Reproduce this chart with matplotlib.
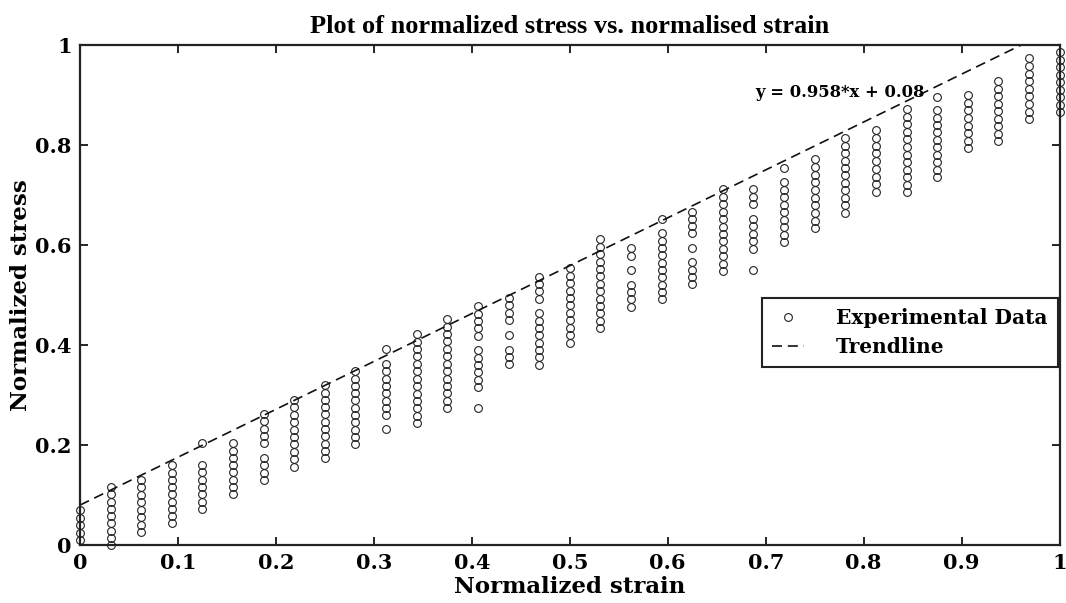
import matplotlib
matplotlib.use('Agg')

import numpy as np
import matplotlib.pyplot as plt

plt.rcParams['font.family'] = ['DejaVu Serif']
plt.rcParams['font.weight'] = 'bold'

# strain levels (one column of readings per level)
strain_levels = [0.0, 0.03125, 0.0625, 0.09375, 0.125, 0.15625, 0.1875, 0.21875,
                 0.25, 0.28125, 0.3125, 0.34375, 0.375, 0.40625, 0.4375, 0.46875,
                 0.5, 0.53125, 0.5625, 0.59375, 0.625, 0.65625, 0.6875, 0.71875,
                 0.75, 0.78125, 0.8125, 0.84375, 0.875, 0.90625, 0.9375, 0.96875, 1.0]

# measured normalized stress at each strain level
stress_readings = [
    [0.010, 0.025, 0.040, 0.055, 0.070],
    [0.000, 0.015, 0.029, 0.044, 0.058, 0.073, 0.087, 0.102, 0.116],
    [0.026, 0.041, 0.056, 0.071, 0.086, 0.101, 0.116, 0.131],
    [0.044, 0.058, 0.073, 0.087, 0.102, 0.116, 0.131, 0.145, 0.160],
    [0.072, 0.087, 0.102, 0.116, 0.131, 0.146, 0.160, 0.204],
    [0.102, 0.117, 0.131, 0.146, 0.160, 0.175, 0.189, 0.204],
    [0.130, 0.145, 0.160, 0.175, 0.204, 0.219, 0.233, 0.248, 0.263],
    [0.157, 0.172, 0.187, 0.202, 0.216, 0.231, 0.246, 0.261, 0.276, 0.291],
    [0.174, 0.189, 0.203, 0.218, 0.232, 0.247, 0.262, 0.276, 0.291, 0.305, 0.320],
    [0.202, 0.217, 0.231, 0.246, 0.260, 0.275, 0.290, 0.304, 0.319, 0.333, 0.348],
    [0.232, 0.260, 0.275, 0.289, 0.304, 0.319, 0.333, 0.348, 0.363, 0.392],
    [0.244, 0.259, 0.274, 0.289, 0.303, 0.318, 0.333, 0.348, 0.363, 0.378, 0.392, 0.407, 0.422],
    [0.274, 0.289, 0.304, 0.319, 0.333, 0.348, 0.363, 0.378, 0.393, 0.408, 0.422, 0.437, 0.452],
    [0.274, 0.317, 0.331, 0.346, 0.361, 0.375, 0.390, 0.419, 0.434, 0.448, 0.463, 0.478],
    [0.362, 0.376, 0.391, 0.420, 0.450, 0.465, 0.480, 0.494],
    [0.361, 0.376, 0.390, 0.405, 0.420, 0.434, 0.449, 0.464, 0.493, 0.508, 0.522, 0.537],
    [0.405, 0.420, 0.435, 0.450, 0.465, 0.480, 0.494, 0.509, 0.524, 0.539, 0.554],
    [0.434, 0.449, 0.464, 0.478, 0.493, 0.508, 0.523, 0.538, 0.553, 0.567, 0.582, 0.597, 0.612],
    [0.476, 0.492, 0.506, 0.521, 0.550, 0.579, 0.594],
    [0.492, 0.507, 0.521, 0.536, 0.551, 0.565, 0.580, 0.595, 0.609, 0.624, 0.652],
    [0.522, 0.537, 0.551, 0.566, 0.595, 0.624, 0.638, 0.653, 0.667],
    [0.548, 0.563, 0.578, 0.593, 0.608, 0.623, 0.637, 0.652, 0.667, 0.682, 0.697, 0.712],
    [0.550, 0.593, 0.608, 0.623, 0.638, 0.652, 0.682, 0.697, 0.712],
    [0.606, 0.621, 0.636, 0.651, 0.666, 0.681, 0.696, 0.711, 0.726, 0.754],
    [0.634, 0.649, 0.665, 0.680, 0.695, 0.711, 0.726, 0.741, 0.757, 0.772],
    [0.665, 0.680, 0.695, 0.710, 0.725, 0.740, 0.754, 0.769, 0.784, 0.799, 0.814],
    [0.706, 0.722, 0.737, 0.753, 0.768, 0.784, 0.799, 0.815, 0.830],
    [0.706, 0.721, 0.736, 0.751, 0.766, 0.781, 0.797, 0.812, 0.827, 0.842, 0.857, 0.872],
    [0.736, 0.751, 0.766, 0.781, 0.796, 0.811, 0.826, 0.840, 0.855, 0.870, 0.897],
    [0.794, 0.809, 0.824, 0.839, 0.855, 0.870, 0.885, 0.900],
    [0.808, 0.823, 0.838, 0.853, 0.868, 0.883, 0.898, 0.913, 0.928],
    [0.852, 0.867, 0.882, 0.898, 0.913, 0.928, 0.943, 0.959, 0.974],
    [0.866, 0.881, 0.896, 0.911, 0.926, 0.941, 0.956, 0.971, 0.986],
]

# trendline coefficients
slope = 0.958
intercept = 0.08

x_ticks = [0, 0.1, 0.2, 0.3, 0.4, 0.5, 0.6, 0.7, 0.8, 0.9, 1]
x_tick_labels = ['0', '0.1', '0.2', '0.3', '0.4', '0.5', '0.6', '0.7', '0.8', '0.9', '1']
y_ticks = [0, 0.2, 0.4, 0.6, 0.8, 1]
y_tick_labels = ['0', '0.2', '0.4', '0.6', '0.8', '1']

# flatten the columns into x/y pairs
xs = []
ys = []
for x, col in zip(strain_levels, stress_readings):
    xs.extend([x] * len(col))
    ys.extend(col)

fig = plt.figure(figsize=(10.66, 6.03), dpi=100)
ax = fig.add_axes([0.075, 0.096, 0.919, 0.829])

ax.plot(xs, ys, 'o', markersize=5.6, markerfacecolor='none', markeredgecolor='#222222',
        markeredgewidth=0.8, linestyle='none', clip_on=False, label='Experimental Data')

xline = np.array([0.0, 1.0])
trend, = ax.plot(xline, slope * xline + intercept, color='#111111', linewidth=1.2,
                 label='Trendline')
trend.set_dashes((6, 3.5))

ax.text(0.689, 0.906, 'y = %.3f*x + %.2f' % (slope, intercept), fontsize=11.8,
        fontweight='bold', va='center', ha='left')

ax.set_xlim(0, 1)
ax.set_ylim(0, 1)
ax.set_xticks(x_ticks)
ax.set_xticklabels(x_tick_labels)
ax.set_yticks(y_ticks)
ax.set_yticklabels(y_tick_labels)
ax.tick_params(direction='in', length=6, width=1.2, top=True, right=True,
               labelsize=15, pad=6)
for lbl in ax.get_xticklabels() + ax.get_yticklabels():
    lbl.set_fontweight('bold')
for sp in ax.spines.values():
    sp.set_linewidth(1.6)
    sp.set_color('#222222')

ax.set_title('Plot of normalized stress vs. normalised strain', fontsize=19,
             fontweight='bold', pad=9, family='Liberation Serif')
ax.set_xlabel('Normalized strain', fontsize=16.5, fontweight='bold', labelpad=2)
ax.set_ylabel('Normalized stress', fontsize=16.5, fontweight='bold', labelpad=2)

leg = ax.legend(loc='upper right', bbox_to_anchor=(0.998, 0.494), borderaxespad=0,
                fancybox=False, fontsize=14.5, handlelength=1.6, handletextpad=1.6,
                borderpad=0.5, labelspacing=0.45)
leg.get_frame().set_edgecolor('#222222')
leg.get_frame().set_linewidth(1.5)
leg.get_frame().set_alpha(1)

plt.savefig('out.png', dpi=100)
